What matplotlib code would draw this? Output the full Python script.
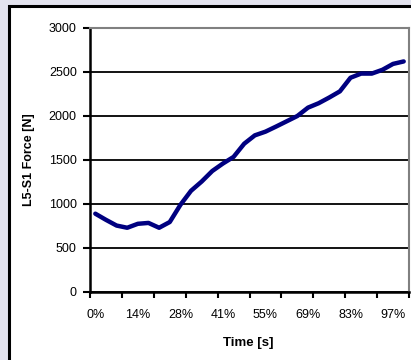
import matplotlib
matplotlib.use("Agg")
import matplotlib.pyplot as plt
from matplotlib.patches import Rectangle
from matplotlib.ticker import FixedLocator, FixedFormatter

plt.rcParams['font.family'] = ['Liberation Sans', 'DejaVu Sans']

categories = ['0%', '3%', '7%', '10%', '14%', '17%', '21%', '24%', '28%', '31%',
              '34%', '38%', '41%', '45%', '48%', '52%', '55%', '59%', '62%', '66%',
              '69%', '72%', '76%', '79%', '83%', '86%', '90%', '93%', '97%', '100%']
force = [890, 820, 755, 730, 775, 785, 730, 795, 990, 1150,
         1255, 1375, 1460, 1535, 1685, 1780, 1822, 1880, 1940, 2000,
         2095, 2145, 2210, 2280, 2435, 2482, 2482, 2525, 2592, 2620]
y_ticks = [0, 500, 1000, 1500, 2000, 2500, 3000]
label_every = 4
tick_every = 3

W, H = 411, 360
fig = plt.figure(figsize=(W / 100, H / 100), dpi=100)
fig.patch.set_facecolor('#e4e4ef')

# outer white chart box with black border (right and bottom edges lie outside the image)
fig.patches.append(Rectangle((9 / W, -0.5), 2.0, 1 - 6 / H + 0.5,
                             transform=fig.transFigure, facecolor='white',
                             edgecolor='black', linewidth=2.2, zorder=-10))

ax = fig.add_axes([90 / W, 1 - 292 / H, 319 / W, 264 / H])
ax.set_zorder(5)
ax.set_facecolor('white')
x = list(range(len(categories)))
ax.plot(x, force, color='#000080', linewidth=3.2, solid_joinstyle='round',
        solid_capstyle='round', zorder=3)

ax.set_xlim(-0.5, len(categories) - 0.5)
ax.set_ylim(0, 3000)
ax.set_yticks(y_ticks)
ax.yaxis.grid(True, color='black', linewidth=1.3)
ax.set_axisbelow(True)

# major ticks (marks only) between category groups
major = [i - 0.5 for i in range(0, len(categories) + 1, tick_every)]
ax.xaxis.set_major_locator(FixedLocator(major))
ax.xaxis.set_major_formatter(FixedFormatter([''] * len(major)))
minor = list(range(0, len(categories), label_every))
ax.xaxis.set_minor_locator(FixedLocator(minor))
ax.xaxis.set_minor_formatter(FixedFormatter([categories[i] for i in minor]))
ax.tick_params(axis='x', which='major', direction='out', length=4.5, width=1.5, color='black')
ax.tick_params(axis='x', which='minor', length=0, pad=12, labelsize=9)
ax.tick_params(axis='y', direction='out', length=5, width=1.5, pad=4.5, labelsize=9)

for s in ['left', 'bottom']:
    ax.spines[s].set_color('black')
    ax.spines[s].set_linewidth(1.8)
for s in ['top', 'right']:
    ax.spines[s].set_color('#808080')
    ax.spines[s].set_linewidth(1.5)

ax.set_ylabel('L5-S1 Force [N]', fontsize=9, fontweight='bold')
ax.yaxis.set_label_coords(-0.172, 0.5)
ax.set_xlabel('Time [s]', fontsize=9.5, fontweight='bold')
ax.xaxis.set_label_coords(0.495, -0.172)

fig.savefig('out.png', dpi=100, facecolor=fig.get_facecolor())
